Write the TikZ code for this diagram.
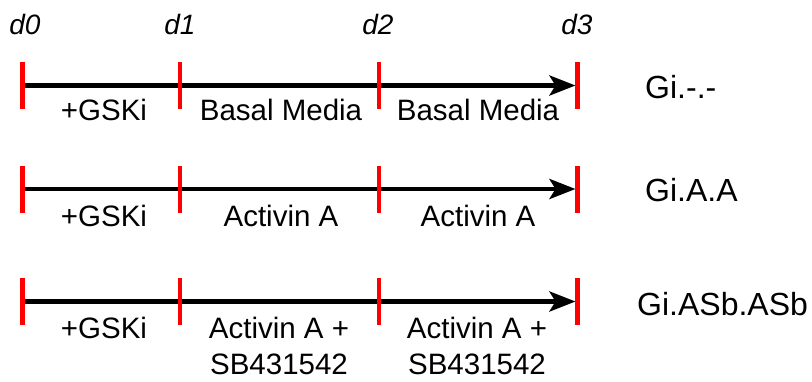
\documentclass[tikz,border=0pt]{standalone}
\usepackage{fontspec}
\setmainfont{Liberation Sans}
\usetikzlibrary{arrows.meta}
\definecolor{tickred}{RGB}{255,0,0}
\tikzset{
  timeline/.style={line width=4.4pt, -{Stealth[length=26pt,width=20pt,inset=6pt]}},
  daytick/.style={draw=tickred, line width=4.6pt},
  daylabel/.style={anchor=base, inner sep=0pt, font=\fontsize{28}{32}\selectfont\itshape},
  phase/.style={anchor=base, inner sep=0pt, align=center, font=\fontsize{29.5}{36}\selectfont},
  condition/.style={anchor=base west, inner sep=0pt, font=\fontsize{32}{36}\selectfont},
}
\begin{document}
\begin{tikzpicture}[x=1pt,y=-1pt]
\useasboundingbox (0,0) rectangle (812,381);

% day markers along the top
\node[daylabel] (d0) at (25,34) {d0};
\node[daylabel] (d1) at (180,34) {d1};
\node[daylabel] (d2) at (378,34) {d2};
\node[daylabel] (d3) at (577,34) {d3};

% tick positions for the three timelines
\foreach \r/\y in {1/85.5,2/189,3/301.5}{
  \coordinate (r\r t0) at (22.5,\y);
  \coordinate (r\r t1) at (180,\y);
  \coordinate (r\r t2) at (379,\y);
  \coordinate (r\r t3) at (577.5,\y);
}

% timelines with their day ticks
\foreach \r in {1,2,3}{
  \draw[timeline] (r\r t0) -- ([xshift=-2pt]r\r t3);
  \foreach \t in {0,1,2,3}{
    \draw[daytick] ([yshift=-23.5pt]r\r t\t) -- ([yshift=23.5pt]r\r t\t);
  }
}

% row 1
\node[phase] (p11) at (104,120.5) {+GSKi};
\node[phase] (p12) at (281,120.5) {Basal Media};
\node[phase] (p13) at (478,120.5) {Basal Media};
\node[condition] (c1) at (645,98) {Gi.-.-};

% row 2
\node[phase] (p21) at (104,226.5) {+GSKi};
\node[phase] (p22) at (281,226.5) {Activin A};
\node[phase] (p23) at (478,226.5) {Activin A};
\node[condition] (c2) at (645,201.5) {Gi.A.A};

% row 3
\node[phase] (p31) at (104,338) {+GSKi};
\node[phase] (p32) at (279,374) {Activin A +\\SB431542};
\node[phase] (p33) at (477,374) {Activin A +\\SB431542};
\node[condition] (c3) at (637,315) {Gi.ASb.ASb};
\end{tikzpicture}
\end{document}
